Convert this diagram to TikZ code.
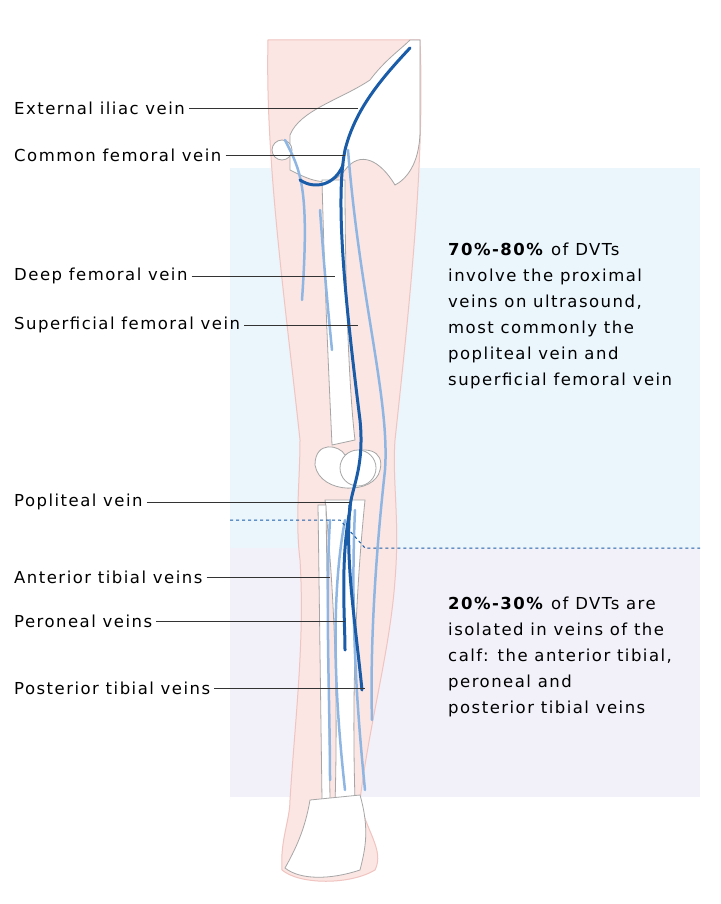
\documentclass[tikz,border=0pt]{standalone}
\usepackage{fontspec}
\setmainfont{DejaVu Sans}[LetterSpace=9]
\definecolor{dvc}{HTML}{1A5CA8}
\definecolor{lvc}{HTML}{8FB6E2}
\definecolor{bgtop}{HTML}{EAF5FC}
\definecolor{bgbot}{HTML}{F2F1F9}
\definecolor{skinc}{HTML}{FBE6E3}
\definecolor{skinl}{HTML}{F0C4C0}
\begin{document}
\begin{tikzpicture}[x=1pt,y=-1pt,
 lab/.style={anchor=west,font=\fontsize{16.5}{19}\selectfont,inner sep=0pt},
 lead/.style={draw=black!80,line width=0.8pt},
 skin/.style={fill=skinc,draw=skinl,line width=1pt},
 bone/.style={fill=white,draw=black!35,line width=0.8pt},
 dv/.style={draw=dvc,line width=3pt,line cap=round},
 lv/.style={draw=lvc,line width=2.5pt,line cap=round}]
\useasboundingbox (0,0) rectangle (720,904);
\fill[white] (0,0) rectangle (720,904);
\fill[bgtop] (230,168) rectangle (700,548);
\fill[bgbot] (230,548) rectangle (700,797);
% leg
\path[skin] (268,40) -- (420,40) .. controls (425,160) and (410,300) .. (395,440)
 .. controls (392,480) and (400,520) .. (395,580) .. controls (390,650) and (370,720) .. (360,800)
 .. controls (365,830) and (385,850) .. (375,870) .. controls (350,885) and (300,885) .. (282,870)
 .. controls (280,840) and (290,820) .. (290,800) .. controls (295,720) and (305,640) .. (300,560)
 .. controls (295,520) and (300,480) .. (300,440) .. controls (285,300) and (265,160) .. (268,40) -- cycle;
% bones
\path[bone] (290,135) .. controls (300,110) and (340,100) .. (370,80) .. controls (385,60) and (400,50) .. (410,40)
 -- (420,40) -- (420,130) .. controls (420,165) and (405,180) .. (395,185) .. controls (380,160) and (360,150) .. (345,170)
 .. controls (330,190) and (310,180) .. (290,170) -- cycle;
\path[bone] (282,150) circle (10);
\path[bone] (322,180) -- (345,180) .. controls (345,300) and (350,400) .. (355,440) -- (332,445) .. controls (330,400) and (325,300) .. (322,180) -- cycle;
\path[bone] (315,465) .. controls (315,440) and (340,445) .. (345,455) .. controls (365,445) and (385,450) .. (380,470) .. controls (375,495) and (320,495) .. (315,465) -- cycle;
\path[bone] (358,468) circle (18);
\path[bone] (325,500) -- (365,500) .. controls (355,600) and (352,700) .. (355,800) -- (335,805) .. controls (338,700) and (335,600) .. (325,500) -- cycle;
\path[bone] (318,505) -- (326,505) -- (330,800) -- (322,800) -- cycle;
\path[bone] (310,800) -- (360,795) .. controls (370,830) and (365,850) .. (360,870) .. controls (330,880) and (300,880) .. (285,868) .. controls (295,850) and (305,830) .. (310,800) -- cycle;
% veins
\draw[lv] (285,140) .. controls (300,170) and (310,185) .. (302,300);
\draw[lv] (320,210) .. controls (325,280) and (330,330) .. (332,350);
\draw[lv] (348,150) .. controls (360,300) and (390,400) .. (385,470) .. controls (375,560) and (370,650) .. (372,720);
\draw[lv] (345,520) .. controls (330,600) and (335,700) .. (345,790);
\draw[lv] (330,520) .. controls (325,600) and (330,700) .. (330,780);
\draw[lv] (355,510) .. controls (350,620) and (358,720) .. (365,790);
\draw[dv] (410,48) .. controls (380,80) and (355,110) .. (345,150) .. controls (335,200) and (345,300) .. (360,420)
 .. controls (365,470) and (350,490) .. (350,510);
\draw[dv] (300,180) .. controls (315,190) and (335,185) .. (343,165);
\draw[dv] (350,505) .. controls (345,560) and (355,620) .. (362,690);
\draw[dv] (350,510) .. controls (340,560) and (345,620) .. (345,650);
% dashed divider
\draw[dashed,draw=dvc,line width=1pt] (230,520) -- (340,520) -- (365,548) -- (700,548);
% labels
\foreach \t/\y/\x in {External iliac vein/108/358, Common femoral vein/155/345, Deep femoral vein/276/335,
 Superficial femoral vein/325/358, Popliteal vein/502/350, Anterior tibial veins/577/330,
 Peroneal veins/621/345, Posterior tibial veins/688/365}{
 \node[lab] (n\y) at (14,\y) {\t};
 \coordinate (e\y) at (\x,\y);
 \draw[lead] (n\y.east) ++(4,0) -- (e\y);
}
\node[anchor=north west,align=left,inner sep=0pt,font=\fontsize{16.5}{26}\selectfont] (top) at (448,243)
 {\textbf{70\%-80\%} of DVTs\\involve the proximal\\veins on ultrasound,\\most commonly the\\popliteal vein and\\superficial femoral vein};
\node[anchor=north west,align=left,inner sep=0pt,font=\fontsize{16.5}{26}\selectfont] (bot) at (448,597)
 {\textbf{20\%-30\%} of DVTs are\\isolated in veins of the\\calf: the anterior tibial,\\peroneal and\\posterior tibial veins};
\end{tikzpicture}
\end{document}
